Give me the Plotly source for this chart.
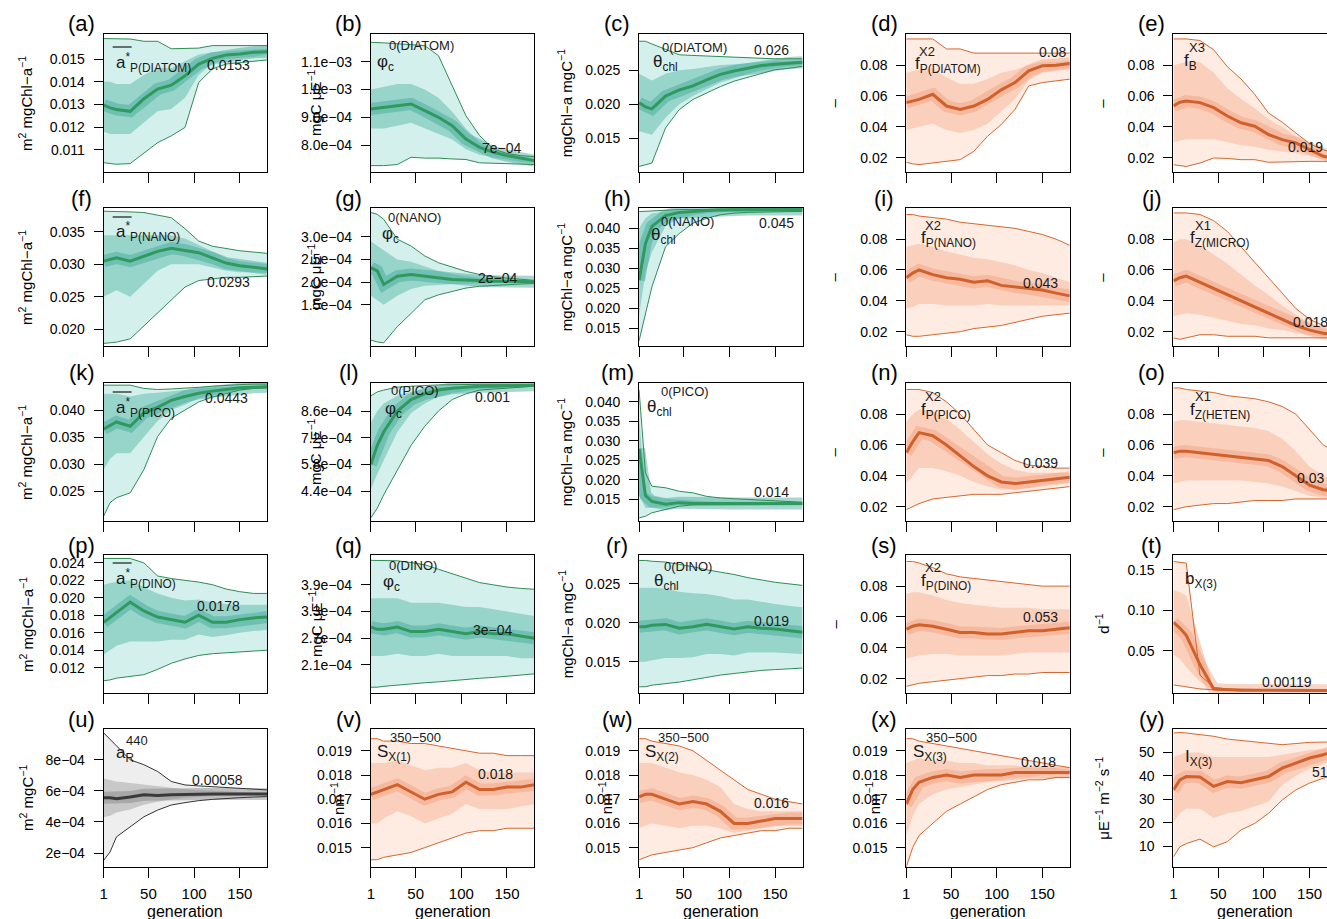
import plotly.graph_objects as go

W, H = 1327, 919

# generations at which the quantiles of every parameter are tabulated
GENERATIONS = [1, 8, 15, 30, 45, 60, 75, 90, 105, 120, 135, 150, 165, 180]
X_TICKS = [1, 50, 100, 150]
X_TICK_LABELS = ["1", "50", "100", "150"]

# ---------------- row 1 ----------------
a_lo = [0.01044, 0.0104, 0.01037, 0.0104, 0.01088, 0.01132, 0.01162, 0.01199, 0.01397, 0.01456, 0.01478, 0.01485, 0.0149, 0.01496]
a_q25 = [0.0118, 0.0117, 0.0117, 0.0117, 0.0122, 0.0127, 0.0128, 0.0133, 0.0143, 0.0148, 0.0150, 0.01505, 0.0151, 0.0152]
a_med = [0.01297, 0.01285, 0.01278, 0.0127, 0.01325, 0.01368, 0.01385, 0.01426, 0.01478, 0.01503, 0.01518, 0.01522, 0.0153, 0.01532]
a_q75 = [0.0140, 0.0140, 0.0139, 0.0139, 0.0143, 0.0146, 0.0146, 0.0149, 0.0152, 0.0153, 0.01535, 0.01538, 0.01542, 0.01545]
a_hi = [0.0159, 0.0159, 0.0159, 0.01588, 0.01578, 0.01578, 0.01545, 0.01545, 0.01548, 0.01559, 0.01559, 0.01559, 0.01559, 0.01559]
a_ticks = [0.011, 0.012, 0.013, 0.014, 0.015]
a_ticktext = ["0.011", "0.012", "0.013", "0.014", "0.015"]

b_lo = [7.26e-4, 7.26e-4, 7.26e-4, 7.3e-4, 7.56e-4, 7.53e-4, 7.53e-4, 7.5e-4, 7.48e-4, 7.36e-4, 7.34e-4, 7.32e-4, 7.3e-4, 7.3e-4]
b_q25 = [8.6e-4, 8.6e-4, 8.6e-4, 8.7e-4, 8.8e-4, 8.6e-4, 8.4e-4, 8.2e-4, 7.85e-4, 7.65e-4, 7.55e-4, 7.48e-4, 7.4e-4, 7.36e-4]
b_med = [9.3e-4, 9.33e-4, 9.36e-4, 9.42e-4, 9.48e-4, 9.24e-4, 9.0e-4, 8.7e-4, 8.22e-4, 7.92e-4, 7.74e-4, 7.62e-4, 7.52e-4, 7.44e-4]
b_q75 = [1.0e-3, 1.005e-3, 1.01e-3, 1.02e-3, 1.02e-3, 1.0e-3, 9.7e-4, 9.2e-4, 8.6e-4, 8.1e-4, 7.85e-4, 7.7e-4, 7.6e-4, 7.52e-4]
b_hi = [1.17e-3, 1.17e-3, 1.168e-3, 1.165e-3, 1.162e-3, 1.158e-3, 1.122e-3, 1.014e-3, 9.06e-4, 8.34e-4, 7.86e-4, 7.7e-4, 7.62e-4, 7.58e-4]
b_ticks = [8e-4, 9e-4, 1e-3, 1.1e-3]
b_ticktext = ["8.0e\u221204", "9.0e\u221204", "1.0e\u221203", "1.1e\u221203"]

c_lo = [0.0108, 0.0110, 0.0113, 0.0165, 0.0192, 0.0207, 0.0217, 0.0226, 0.0234, 0.0240, 0.0246, 0.0251, 0.0253, 0.0256]
c_q25 = [0.0160, 0.0157, 0.0155, 0.0180, 0.0200, 0.0212, 0.0222, 0.0232, 0.0238, 0.0245, 0.0250, 0.0254, 0.0256, 0.0258]
c_med = [0.0202, 0.0196, 0.0193, 0.0212, 0.0221, 0.0227, 0.0236, 0.0244, 0.0249, 0.0253, 0.0257, 0.0259, 0.0261, 0.0262]
c_q75 = [0.0245, 0.0240, 0.0235, 0.0245, 0.0250, 0.0252, 0.0255, 0.0258, 0.0259, 0.0261, 0.0263, 0.0264, 0.0264, 0.0265]
c_hi = [0.0293, 0.0293, 0.0289, 0.0281, 0.0273, 0.0272, 0.0271, 0.0270, 0.0270, 0.0268, 0.0267, 0.0267, 0.0267, 0.0267]
c_ticks = [0.015, 0.020, 0.025]
c_ticktext = ["0.015", "0.020", "0.025"]

d_lo = [0.017, 0.016, 0.0155, 0.0165, 0.0176, 0.0187, 0.0241, 0.0339, 0.0415, 0.0513, 0.0665, 0.0687, 0.0698, 0.0709]
d_q25 = [0.038, 0.039, 0.040, 0.042, 0.038, 0.036, 0.038, 0.042, 0.050, 0.058, 0.070, 0.075, 0.077, 0.078]
d_med = [0.0557, 0.057, 0.0578, 0.0611, 0.0535, 0.0513, 0.0535, 0.0578, 0.064, 0.0687, 0.0763, 0.0796, 0.080, 0.0811]
d_q75 = [0.075, 0.076, 0.077, 0.078, 0.072, 0.068, 0.068, 0.071, 0.075, 0.077, 0.080, 0.082, 0.082, 0.083]
d_hi = [0.097, 0.097, 0.097, 0.097, 0.0905, 0.0905, 0.0878, 0.0878, 0.0878, 0.0878, 0.0878, 0.0878, 0.0878, 0.0878]

e_lo = [0.0154, 0.015, 0.0143, 0.0165, 0.0198, 0.0195, 0.0187, 0.0187, 0.017, 0.0172, 0.0176, 0.0176, 0.0176, 0.0176]
e_q25 = [0.030, 0.031, 0.032, 0.032, 0.032, 0.030, 0.028, 0.027, 0.025, 0.024, 0.023, 0.021, 0.019, 0.018]
e_med = [0.0535, 0.056, 0.0567, 0.0557, 0.0524, 0.047, 0.0426, 0.0404, 0.035, 0.0317, 0.0296, 0.0252, 0.0209, 0.019]
e_q75 = [0.080, 0.081, 0.082, 0.082, 0.075, 0.065, 0.058, 0.052, 0.045, 0.040, 0.034, 0.028, 0.023, 0.020]
e_hi = [0.097, 0.097, 0.097, 0.096, 0.090, 0.079, 0.071, 0.061, 0.049, 0.043, 0.036, 0.029, 0.025, 0.023]

frac_ticks = [0.02, 0.04, 0.06, 0.08]
frac_ticktext = ["0.02", "0.04", "0.06", "0.08"]

# ---------------- row 2 ----------------
f_lo = [0.0178, 0.0179, 0.0180, 0.0185, 0.0205, 0.0225, 0.0245, 0.0265, 0.0275, 0.0278, 0.0280, 0.0280, 0.0281, 0.0282]
f_q25 = [0.0250, 0.0255, 0.0260, 0.0250, 0.0270, 0.0290, 0.0300, 0.0300, 0.0300, 0.0295, 0.0290, 0.0288, 0.0287, 0.0287]
f_med = [0.0305, 0.0308, 0.0310, 0.0305, 0.0312, 0.0320, 0.0325, 0.0322, 0.0318, 0.0310, 0.0302, 0.0298, 0.0295, 0.0293]
f_q75 = [0.0345, 0.0345, 0.0345, 0.0345, 0.0345, 0.0345, 0.0345, 0.0340, 0.0330, 0.0320, 0.0310, 0.0305, 0.0302, 0.0300]
f_hi = [0.0382, 0.0382, 0.0382, 0.0381, 0.0380, 0.0376, 0.0372, 0.0355, 0.0336, 0.0328, 0.0324, 0.0321, 0.0319, 0.0317]
f_ticks = [0.020, 0.025, 0.030, 0.035]
f_ticktext = ["0.020", "0.025", "0.030", "0.035"]

g_lo = [0.72e-4, 0.68e-4, 0.66e-4, 1.02e-4, 1.31e-4, 1.61e-4, 1.72e-4, 1.8e-4, 1.87e-4, 1.91e-4, 1.93e-4, 1.94e-4, 1.96e-4, 1.97e-4]
g_q25 = [1.7e-4, 1.6e-4, 1.5e-4, 1.7e-4, 1.85e-4, 1.92e-4, 1.94e-4, 1.96e-4, 1.97e-4, 1.97e-4, 1.98e-4, 1.99e-4, 1.99e-4, 1.99e-4]
g_med = [2.32e-4, 2.25e-4, 1.95e-4, 2.13e-4, 2.17e-4, 2.13e-4, 2.09e-4, 2.06e-4, 2.05e-4, 2.03e-4, 2.02e-4, 2.02e-4, 2.01e-4, 2.01e-4]
g_q75 = [2.9e-4, 2.8e-4, 2.7e-4, 2.5e-4, 2.45e-4, 2.35e-4, 2.25e-4, 2.18e-4, 2.13e-4, 2.1e-4, 2.07e-4, 2.05e-4, 2.04e-4, 2.03e-4]
g_hi = [3.54e-4, 3.5e-4, 3.39e-4, 2.95e-4, 2.8e-4, 2.58e-4, 2.43e-4, 2.34e-4, 2.24e-4, 2.17e-4, 2.12e-4, 2.09e-4, 2.06e-4, 2.04e-4]
g_ticks = [1.5e-4, 2.0e-4, 2.5e-4, 3.0e-4]
g_ticktext = ["1.5e\u221204", "2.0e\u221204", "2.5e\u221204", "3.0e\u221204"]

h_lo = [0.0118, 0.0185, 0.0253, 0.0354, 0.0387, 0.0413, 0.0425, 0.0434, 0.0438, 0.0440, 0.0441, 0.0442, 0.0442, 0.0442]
h_q25 = [0.018, 0.029, 0.034, 0.0405, 0.0425, 0.0433, 0.0438, 0.0441, 0.0443, 0.0444, 0.0445, 0.0445, 0.0445, 0.0445]
h_med = [0.027, 0.0362, 0.0405, 0.0432, 0.0440, 0.0443, 0.0445, 0.0446, 0.0446, 0.0447, 0.0447, 0.0447, 0.0447, 0.0447]
h_q75 = [0.040, 0.0425, 0.0437, 0.0442, 0.0444, 0.0446, 0.0447, 0.0447, 0.0447, 0.0448, 0.0448, 0.0448, 0.0448, 0.0448]
h_hi = [0.0442, 0.0443, 0.0444, 0.0446, 0.0447, 0.0447, 0.0448, 0.0449, 0.0449, 0.0449, 0.0449, 0.0449, 0.0449, 0.0449]
chl_ticks = [0.015, 0.020, 0.025, 0.030, 0.035, 0.040]
chl_ticktext = ["0.015", "0.020", "0.025", "0.030", "0.035", "0.040"]

i_lo = [0.018, 0.017, 0.017, 0.018, 0.019, 0.020, 0.022, 0.023, 0.024, 0.026, 0.028, 0.030, 0.031, 0.032]
i_q25 = [0.035, 0.036, 0.038, 0.038, 0.037, 0.037, 0.037, 0.038, 0.037, 0.037, 0.037, 0.037, 0.037, 0.037]
i_med = [0.055, 0.058, 0.060, 0.057, 0.055, 0.054, 0.052, 0.053, 0.050, 0.049, 0.048, 0.047, 0.045, 0.0432]
i_q75 = [0.075, 0.076, 0.077, 0.075, 0.072, 0.070, 0.068, 0.067, 0.065, 0.063, 0.060, 0.058, 0.055, 0.052]
i_hi = [0.096, 0.096, 0.095, 0.094, 0.093, 0.091, 0.090, 0.089, 0.088, 0.087, 0.085, 0.083, 0.080, 0.076]

j_lo = [0.016, 0.015, 0.016, 0.018, 0.018, 0.017, 0.017, 0.017, 0.016, 0.016, 0.016, 0.016, 0.016, 0.016]
j_q25 = [0.030, 0.031, 0.032, 0.031, 0.029, 0.027, 0.025, 0.024, 0.022, 0.021, 0.019, 0.018, 0.017, 0.017]
j_med = [0.053, 0.055, 0.056, 0.052, 0.048, 0.044, 0.040, 0.036, 0.032, 0.028, 0.024, 0.021, 0.019, 0.018]
j_q75 = [0.078, 0.080, 0.080, 0.076, 0.070, 0.064, 0.057, 0.050, 0.044, 0.037, 0.031, 0.026, 0.022, 0.020]
j_hi = [0.097, 0.097, 0.097, 0.096, 0.092, 0.085, 0.075, 0.065, 0.055, 0.045, 0.035, 0.028, 0.024, 0.022]

# ---------------- row 3 ----------------
k_lo = [0.0204, 0.0229, 0.0238, 0.0247, 0.0290, 0.0351, 0.0385, 0.0400, 0.0415, 0.0424, 0.0431, 0.0437, 0.0440, 0.0441]
k_q25 = [0.029, 0.031, 0.032, 0.032, 0.035, 0.038, 0.040, 0.041, 0.0422, 0.0428, 0.0432, 0.0436, 0.0439, 0.0440]
k_med = [0.0365, 0.0372, 0.0378, 0.0370, 0.0395, 0.0405, 0.0418, 0.0425, 0.0431, 0.0435, 0.0438, 0.0441, 0.0442, 0.0443]
k_q75 = [0.0430, 0.0430, 0.0430, 0.0425, 0.0430, 0.0432, 0.0435, 0.0437, 0.0440, 0.0441, 0.0443, 0.0444, 0.0445, 0.0446]
k_hi = [0.0446, 0.0446, 0.0446, 0.0446, 0.0440, 0.0438, 0.0439, 0.0440, 0.0442, 0.0444, 0.0446, 0.0447, 0.0448, 0.0448]
k_ticks = [0.025, 0.030, 0.035, 0.040]
k_ticktext = ["0.025", "0.030", "0.035", "0.040"]

l_lo = [3.0e-4, 3.5e-4, 4.2e-4, 5.5e-4, 6.8e-4, 7.8e-4, 8.6e-4, 9.2e-4, 9.5e-4, 9.7e-4, 9.75e-4, 9.8e-4, 9.85e-4, 9.9e-4]
l_q25 = [4.5e-4, 5.3e-4, 6.0e-4, 7.5e-4, 8.5e-4, 9.0e-4, 9.35e-4, 9.55e-4, 9.65e-4, 9.75e-4, 9.8e-4, 9.85e-4, 9.88e-4, 9.9e-4]
l_med = [5.8e-4, 6.8e-4, 7.5e-4, 8.6e-4, 9.2e-4, 9.5e-4, 9.7e-4, 9.8e-4, 9.85e-4, 9.9e-4, 9.9e-4, 9.92e-4, 9.93e-4, 9.95e-4]
l_q75 = [8.0e-4, 8.6e-4, 9.0e-4, 9.4e-4, 9.6e-4, 9.75e-4, 9.85e-4, 9.9e-4, 9.92e-4, 9.94e-4, 9.95e-4, 9.96e-4, 9.97e-4, 9.98e-4]
l_hi = [9.4e-4, 9.6e-4, 9.7e-4, 9.85e-4, 9.9e-4, 9.95e-4, 9.97e-4, 9.98e-4, 1.0e-3, 1.0e-3, 1.0e-3, 1.0e-3, 1.0e-3, 1.0e-3]
l_ticks = [4.4e-4, 5.8e-4, 7.2e-4, 8.6e-4]
l_ticktext = ["4.4e\u221204", "5.8e\u221204", "7.2e\u221204", "8.6e\u221204"]

m_lo = [0.0103, 0.0107, 0.0116, 0.0125, 0.0133, 0.0136, 0.0136, 0.0137, 0.0137, 0.0137, 0.0137, 0.0137, 0.0137, 0.0137]
m_q25 = [0.016, 0.0128, 0.0128, 0.0130, 0.0136, 0.0137, 0.0138, 0.0139, 0.0139, 0.0139, 0.0139, 0.0139, 0.0139, 0.0139]
m_med = [0.028, 0.016, 0.0145, 0.0138, 0.0142, 0.0140, 0.0140, 0.0140, 0.0140, 0.0140, 0.0140, 0.0140, 0.0140, 0.0140]
m_q75 = [0.036, 0.017, 0.0158, 0.0152, 0.0150, 0.0147, 0.0145, 0.0144, 0.0143, 0.0142, 0.0142, 0.0141, 0.0141, 0.0141]
m_hi = [0.043, 0.0218, 0.0184, 0.0180, 0.0171, 0.0167, 0.0158, 0.0154, 0.0152, 0.0150, 0.0148, 0.0146, 0.0144, 0.0143]

n_lo = [0.018, 0.020, 0.022, 0.025, 0.026, 0.027, 0.028, 0.028, 0.028, 0.029, 0.030, 0.031, 0.032, 0.033]
n_q25 = [0.035, 0.040, 0.045, 0.045, 0.043, 0.040, 0.036, 0.033, 0.031, 0.031, 0.032, 0.034, 0.035, 0.036]
n_med = [0.055, 0.062, 0.068, 0.066, 0.060, 0.053, 0.046, 0.040, 0.036, 0.035, 0.036, 0.037, 0.038, 0.039]
n_q75 = [0.075, 0.080, 0.083, 0.082, 0.077, 0.070, 0.062, 0.054, 0.048, 0.044, 0.042, 0.042, 0.042, 0.042]
n_hi = [0.096, 0.096, 0.096, 0.094, 0.088, 0.080, 0.070, 0.060, 0.055, 0.050, 0.047, 0.046, 0.045, 0.045]

o_lo = [0.018, 0.019, 0.020, 0.021, 0.022, 0.022, 0.023, 0.024, 0.024, 0.024, 0.025, 0.025, 0.025, 0.025]
o_q25 = [0.035, 0.036, 0.037, 0.037, 0.037, 0.037, 0.037, 0.036, 0.035, 0.033, 0.030, 0.027, 0.026, 0.026]
o_med = [0.055, 0.056, 0.056, 0.055, 0.054, 0.053, 0.052, 0.051, 0.050, 0.046, 0.040, 0.034, 0.031, 0.030]
o_q75 = [0.075, 0.076, 0.076, 0.075, 0.074, 0.073, 0.072, 0.071, 0.069, 0.064, 0.056, 0.046, 0.040, 0.037]
o_hi = [0.097, 0.097, 0.096, 0.095, 0.094, 0.092, 0.091, 0.090, 0.088, 0.085, 0.080, 0.070, 0.060, 0.055]

# ---------------- row 4 ----------------
p_lo = [0.0105, 0.0106, 0.0108, 0.0110, 0.0112, 0.0118, 0.0125, 0.0130, 0.0134, 0.0136, 0.0137, 0.0138, 0.0139, 0.0140]
p_q25 = [0.0135, 0.0140, 0.0145, 0.0150, 0.0150, 0.0150, 0.0152, 0.0152, 0.0158, 0.0155, 0.0157, 0.0160, 0.0162, 0.0163]
p_med = [0.0172, 0.0178, 0.0183, 0.0195, 0.0185, 0.0178, 0.0175, 0.0172, 0.0180, 0.0172, 0.0172, 0.0175, 0.0177, 0.0178]
p_q75 = [0.0215, 0.0217, 0.0218, 0.0220, 0.0212, 0.0205, 0.0200, 0.0197, 0.0198, 0.0195, 0.0193, 0.0192, 0.0192, 0.0192]
p_hi = [0.0245, 0.0245, 0.0245, 0.0245, 0.0240, 0.0225, 0.0222, 0.0220, 0.0218, 0.0215, 0.0210, 0.0207, 0.0205, 0.0205]
p_ticks = [0.012, 0.014, 0.016, 0.018, 0.020, 0.022, 0.024]
p_ticktext = ["0.012", "0.014", "0.016", "0.018", "0.020", "0.022", "0.024"]

q_lo = [1.6e-4, 1.6e-4, 1.62e-4, 1.65e-4, 1.68e-4, 1.7e-4, 1.72e-4, 1.75e-4, 1.78e-4, 1.8e-4, 1.82e-4, 1.85e-4, 1.88e-4, 1.9e-4]
q_q25 = [2.3e-4, 2.3e-4, 2.3e-4, 2.35e-4, 2.3e-4, 2.3e-4, 2.35e-4, 2.3e-4, 2.3e-4, 2.3e-4, 2.3e-4, 2.3e-4, 2.25e-4, 2.25e-4]
q_med = [2.95e-4, 2.9e-4, 2.9e-4, 2.95e-4, 2.85e-4, 2.85e-4, 2.9e-4, 2.85e-4, 2.8e-4, 2.85e-4, 2.8e-4, 2.8e-4, 2.75e-4, 2.7e-4]
q_q75 = [3.6e-4, 3.6e-4, 3.6e-4, 3.6e-4, 3.5e-4, 3.5e-4, 3.5e-4, 3.45e-4, 3.4e-4, 3.4e-4, 3.35e-4, 3.3e-4, 3.25e-4, 3.2e-4]
q_hi = [4.45e-4, 4.45e-4, 4.45e-4, 4.44e-4, 4.4e-4, 4.35e-4, 4.25e-4, 4.15e-4, 4.05e-4, 3.95e-4, 3.9e-4, 3.85e-4, 3.82e-4, 3.8e-4]
q_ticks = [2.1e-4, 2.7e-4, 3.3e-4, 3.9e-4]
q_ticktext = ["2.1e\u221204", "2.7e\u221204", "3.3e\u221204", "3.9e\u221204"]

r_lo = [0.0118, 0.0118, 0.0120, 0.0122, 0.0124, 0.0127, 0.0130, 0.0133, 0.0135, 0.0137, 0.0139, 0.0140, 0.0141, 0.0142]
r_q25 = [0.0150, 0.0150, 0.0152, 0.0155, 0.0155, 0.0156, 0.0160, 0.0160, 0.0158, 0.0162, 0.0162, 0.0162, 0.0161, 0.0160]
r_med = [0.0195, 0.0195, 0.0197, 0.0198, 0.0193, 0.0195, 0.0198, 0.0195, 0.0192, 0.0195, 0.0193, 0.0192, 0.0190, 0.0188]
r_q75 = [0.0245, 0.0245, 0.0245, 0.0244, 0.0240, 0.0238, 0.0237, 0.0234, 0.0230, 0.0230, 0.0227, 0.0224, 0.0222, 0.0220]
r_hi = [0.0280, 0.0280, 0.0279, 0.0278, 0.0275, 0.0272, 0.0268, 0.0265, 0.0262, 0.0258, 0.0255, 0.0252, 0.0250, 0.0248]
r_ticks = [0.015, 0.020, 0.025]
r_ticktext = ["0.015", "0.020", "0.025"]

s_lo = [0.015, 0.016, 0.017, 0.018, 0.019, 0.020, 0.021, 0.022, 0.022, 0.023, 0.023, 0.024, 0.024, 0.024]
s_q25 = [0.033, 0.034, 0.035, 0.036, 0.036, 0.035, 0.035, 0.035, 0.035, 0.036, 0.037, 0.037, 0.037, 0.037]
s_med = [0.052, 0.054, 0.055, 0.054, 0.052, 0.050, 0.050, 0.049, 0.049, 0.050, 0.051, 0.051, 0.052, 0.053]
s_q75 = [0.075, 0.076, 0.076, 0.074, 0.071, 0.069, 0.068, 0.067, 0.066, 0.066, 0.066, 0.065, 0.065, 0.065]
s_hi = [0.096, 0.096, 0.095, 0.092, 0.088, 0.086, 0.085, 0.084, 0.083, 0.082, 0.081, 0.080, 0.080, 0.080]

t_lo = [0.008, 0.007, 0.006, 0.003, 0.002, 0.001, 0.0009, 0.0009, 0.0008, 0.0008, 0.0008, 0.0008, 0.0008, 0.0008]
t_q25 = [0.045, 0.040, 0.030, 0.012, 0.002, 0.0012, 0.0011, 0.001, 0.001, 0.001, 0.001, 0.001, 0.001, 0.001]
t_med = [0.085, 0.078, 0.069, 0.033, 0.003, 0.0018, 0.0015, 0.0013, 0.0012, 0.0012, 0.0012, 0.0012, 0.0012, 0.00119]
t_q75 = [0.125, 0.122, 0.118, 0.060, 0.004, 0.0022, 0.0018, 0.0015, 0.0014, 0.0014, 0.0013, 0.0013, 0.0013, 0.0013]
t_hi = [0.160, 0.159, 0.158, 0.020, 0.005, 0.003, 0.0025, 0.002, 0.002, 0.0018, 0.0016, 0.0015, 0.0015, 0.0014]
t_ticks = [0.05, 0.10, 0.15]
t_ticktext = ["0.05", "0.10", "0.15"]

# ---------------- row 5 ----------------
u_lo = [1.53e-4, 2.07e-4, 3.04e-4, 3.69e-4, 4.33e-4, 4.76e-4, 5.09e-4, 5.24e-4, 5.37e-4, 5.45e-4, 5.52e-4, 5.56e-4, 5.6e-4, 5.63e-4]
u_q25 = [4.3e-4, 4.4e-4, 4.6e-4, 4.8e-4, 5.1e-4, 5.3e-4, 5.45e-4, 5.55e-4, 5.6e-4, 5.65e-4, 5.68e-4, 5.7e-4, 5.72e-4, 5.72e-4]
u_med = [5.55e-4, 5.55e-4, 5.5e-4, 5.6e-4, 5.75e-4, 5.7e-4, 5.75e-4, 5.78e-4, 5.8e-4, 5.8e-4, 5.8e-4, 5.8e-4, 5.8e-4, 5.8e-4]
u_q75 = [6.8e-4, 6.7e-4, 6.6e-4, 6.5e-4, 6.4e-4, 6.3e-4, 6.2e-4, 6.1e-4, 6.05e-4, 6.0e-4, 5.95e-4, 5.92e-4, 5.9e-4, 5.88e-4]
u_hi = [9.73e-4, 9.3e-4, 8.86e-4, 8.0e-4, 7.68e-4, 7.25e-4, 6.6e-4, 6.38e-4, 6.32e-4, 6.27e-4, 6.22e-4, 6.17e-4, 6.1e-4, 6.06e-4]
u_ticks = [2e-4, 4e-4, 6e-4, 8e-4]
u_ticktext = ["2e\u221204", "4e\u221204", "6e\u221204", "8e\u221204"]

v_lo = [0.0145, 0.0145, 0.0146, 0.0147, 0.0148, 0.0150, 0.0152, 0.0154, 0.0156, 0.0157, 0.0157, 0.0158, 0.0158, 0.0158]
v_q25 = [0.0160, 0.0160, 0.0162, 0.0165, 0.0163, 0.0160, 0.0162, 0.0164, 0.0168, 0.0166, 0.0166, 0.0166, 0.0167, 0.0168]
v_med = [0.0172, 0.0173, 0.0174, 0.0176, 0.0173, 0.0170, 0.0172, 0.0173, 0.0177, 0.0174, 0.0174, 0.0175, 0.0175, 0.0176]
v_q75 = [0.0185, 0.0185, 0.0185, 0.0186, 0.0184, 0.0182, 0.0183, 0.0183, 0.0185, 0.0182, 0.0181, 0.0181, 0.0181, 0.0181]
v_hi = [0.0195, 0.0195, 0.0194, 0.0194, 0.0193, 0.0193, 0.0192, 0.0191, 0.0190, 0.0189, 0.0189, 0.0188, 0.0188, 0.0188]

w_lo = [0.0145, 0.0146, 0.0147, 0.0148, 0.0149, 0.0150, 0.0152, 0.0154, 0.0155, 0.0156, 0.0157, 0.0157, 0.0158, 0.0158]
w_q25 = [0.0158, 0.0159, 0.0160, 0.0159, 0.0158, 0.0159, 0.0159, 0.0158, 0.0156, 0.0157, 0.0158, 0.0159, 0.0159, 0.0159]
w_med = [0.0171, 0.0172, 0.0172, 0.0170, 0.0168, 0.0169, 0.0168, 0.0165, 0.0160, 0.0160, 0.0161, 0.0162, 0.0162, 0.0162]
w_q75 = [0.0185, 0.0185, 0.0185, 0.0183, 0.0181, 0.0180, 0.0178, 0.0175, 0.0168, 0.0166, 0.0165, 0.0165, 0.0165, 0.0165]
w_hi = [0.0195, 0.0195, 0.0194, 0.0193, 0.0192, 0.0190, 0.0186, 0.0182, 0.0178, 0.0174, 0.0172, 0.0170, 0.0169, 0.0168]

x_lo = [0.0142, 0.0150, 0.0155, 0.0160, 0.0165, 0.0168, 0.0171, 0.0174, 0.0176, 0.0177, 0.0178, 0.0178, 0.0179, 0.0179]
x_q25 = [0.0155, 0.0163, 0.0168, 0.0172, 0.0174, 0.0175, 0.0176, 0.0177, 0.0178, 0.0179, 0.0179, 0.0180, 0.0180, 0.0180]
x_med = [0.0168, 0.0174, 0.0177, 0.0179, 0.0180, 0.0179, 0.0180, 0.0180, 0.0180, 0.0181, 0.0181, 0.0181, 0.0181, 0.0181]
x_q75 = [0.0185, 0.0186, 0.0187, 0.0186, 0.0186, 0.0185, 0.0185, 0.0184, 0.0184, 0.0184, 0.0183, 0.0183, 0.0183, 0.0182]
x_hi = [0.0195, 0.0195, 0.0194, 0.0193, 0.0192, 0.0191, 0.0190, 0.0189, 0.0188, 0.0187, 0.0186, 0.0185, 0.0184, 0.0183]

slope_ticks = [0.015, 0.016, 0.017, 0.018, 0.019]
slope_ticktext = ["0.015", "0.016", "0.017", "0.018", "0.019"]

y_lo = [5.4, 9.7, 11.1, 13.0, 9.7, 11.9, 16.9, 19.7, 24.0, 29.7, 34.0, 36.9, 39.0, 40.4]
y_q25 = [20.0, 24.0, 26.0, 26.0, 22.0, 24.0, 25.0, 27.0, 29.0, 36.0, 40.0, 43.0, 45.0, 47.0]
y_med = [34.0, 38.3, 39.7, 39.5, 35.5, 37.6, 37.1, 38.3, 39.7, 43.3, 45.4, 47.6, 49.0, 51.0]
y_q75 = [48.0, 49.0, 50.0, 50.0, 48.0, 48.0, 48.0, 48.0, 48.0, 49.0, 50.0, 51.0, 51.5, 52.0]
y_hi = [58.3, 58.5, 58.3, 57.6, 56.9, 55.7, 55.1, 54.7, 54.0, 53.3, 53.8, 54.3, 54.4, 54.5]
y_ticks = [10, 20, 30, 40, 50]
y_ticktext = ["10", "20", "30", "40", "50"]

SERIES = {
    "a": (a_lo, a_q25, a_med, a_q75, a_hi), "b": (b_lo, b_q25, b_med, b_q75, b_hi),
    "c": (c_lo, c_q25, c_med, c_q75, c_hi), "d": (d_lo, d_q25, d_med, d_q75, d_hi),
    "e": (e_lo, e_q25, e_med, e_q75, e_hi), "f": (f_lo, f_q25, f_med, f_q75, f_hi),
    "g": (g_lo, g_q25, g_med, g_q75, g_hi), "h": (h_lo, h_q25, h_med, h_q75, h_hi),
    "i": (i_lo, i_q25, i_med, i_q75, i_hi), "j": (j_lo, j_q25, j_med, j_q75, j_hi),
    "k": (k_lo, k_q25, k_med, k_q75, k_hi), "l": (l_lo, l_q25, l_med, l_q75, l_hi),
    "m": (m_lo, m_q25, m_med, m_q75, m_hi), "n": (n_lo, n_q25, n_med, n_q75, n_hi),
    "o": (o_lo, o_q25, o_med, o_q75, o_hi), "p": (p_lo, p_q25, p_med, p_q75, p_hi),
    "q": (q_lo, q_q25, q_med, q_q75, q_hi), "r": (r_lo, r_q25, r_med, r_q75, r_hi),
    "s": (s_lo, s_q25, s_med, s_q75, s_hi), "t": (t_lo, t_q25, t_med, t_q75, t_hi),
    "u": (u_lo, u_q25, u_med, u_q75, u_hi), "v": (v_lo, v_q25, v_med, v_q75, v_hi),
    "w": (w_lo, w_q25, w_med, w_q75, w_hi), "x": (x_lo, x_q25, x_med, x_q75, x_hi),
    "y": (y_lo, y_q25, y_med, y_q75, y_hi),
}

TICKS = {
    "a": (a_ticks, a_ticktext), "b": (b_ticks, b_ticktext), "c": (c_ticks, c_ticktext),
    "d": (frac_ticks, frac_ticktext), "e": (frac_ticks, frac_ticktext),
    "f": (f_ticks, f_ticktext), "g": (g_ticks, g_ticktext), "h": (chl_ticks, chl_ticktext),
    "i": (frac_ticks, frac_ticktext), "j": (frac_ticks, frac_ticktext),
    "k": (k_ticks, k_ticktext), "l": (l_ticks, l_ticktext), "m": (chl_ticks, chl_ticktext),
    "n": (frac_ticks, frac_ticktext), "o": (frac_ticks, frac_ticktext),
    "p": (p_ticks, p_ticktext), "q": (q_ticks, q_ticktext), "r": (r_ticks, r_ticktext),
    "s": (frac_ticks, frac_ticktext), "t": (t_ticks, t_ticktext),
    "u": (u_ticks, u_ticktext), "v": (slope_ticks, slope_ticktext),
    "w": (slope_ticks, slope_ticktext), "x": (slope_ticks, slope_ticktext),
    "y": (y_ticks, y_ticktext),
}

# ---------------- look and placement ----------------
THEMES = {
    "green": dict(outer="#d3f0ec", inner="#97d5cb", core="rgba(64,165,150,0.45)", edge="#2f8c55", median="#2e9a5e"),
    "orange": dict(outer="#feebe2", inner="#fad0bc", core="rgba(240,150,115,0.40)", edge="#d5672e", median="#d0612a"),
    "grey": dict(outer="#eeeeee", inner="#c8c8c8", core="rgba(120,120,120,0.40)", edge="#333333", median="#3a3a3a"),
}

COL_LEFT = [100, 368, 637, 905, 1173]
ROW_TOP = [34, 208, 383, 555, 729]
BOX_W, BOX_H = 164, 138
GEN_SPAN = 179.0

UNIT_CHL = "m<sup>2</sup> mgChl\u2212a<sup>\u22121</sup>"
UNIT_PHI = "mgC \u03bcE<sup>\u22121</sup>"
UNIT_THETA = "mgChl\u2212a mgC<sup>\u22121</sup>"
UNIT_NM = "nm<sup>\u22121</sup>"

# key: column, row, theme, y range, y title, title offset,
#      symbol (text, dx, dy), superscript (text, dx, dy), overbar,
#      value label (cx, cy), significant digits, scientific
STYLE = {
    "a": dict(c=0, r=0, th="green", yr=[0.01003, 0.0161], yt=UNIT_CHL, yto=-78,
              sym=("a<sup>*</sup><sub>P(DIATOM)</sub>", 10, 28), sup=None, bar=True, val=(125, 31), sig=3, sci=False),
    "b": dict(c=1, r=0, th="green", yr=[7.03e-4, 1.2e-3], yt=UNIT_PHI, yto=-56,
              sym=("\u03c6<sub>c</sub>", 4, 29), sup=("0(DIATOM)", 16, 12), bar=False, val=(132, 114), sig=1, sci=True),
    "c": dict(c=2, r=0, th="green", yr=[0.00998, 0.03037], yt=UNIT_THETA, yto=-74,
              sym=("\u03b8<sub>chl</sub>", 12, 29), sup=("0(DIATOM)", 21, 13), bar=False, val=(133, 16), sig=2, sci=False),
    "d": dict(c=3, r=0, th="orange", yr=[0.0107, 0.1002], yt="\u2013", yto=-72,
              sym=("f<sub>P(DIATOM)</sub>", 7, 31), sup=("X2", 11, 17), bar=False, val=(147, 18), sig=1, sci=False),
    "e": dict(c=4, r=0, th="orange", yr=[0.0107, 0.1002], yt="\u2013", yto=-72,
              sym=("f<sub>B</sub>", 9, 28), sup=("X3", 14, 13), bar=False, val=(132, 113), sig=2, sci=False),
    "f": dict(c=0, r=1, th="green", yr=[0.0174, 0.0387], yt=UNIT_CHL, yto=-78,
              sym=("a<sup>*</sup><sub>P(NANO)</sub>", 10, 24), sup=None, bar=True, val=(125, 74), sig=3, sci=False),
    "g": dict(c=1, r=1, th="green", yr=[0.59e-4, 3.64e-4], yt=UNIT_PHI, yto=-56,
              sym=("\u03c6<sub>c</sub>", 9, 27), sup=("0(NANO)", 15, 9), bar=False, val=(127, 70), sig=1, sci=True),
    "h": dict(c=2, r=1, th="green", yr=[0.0105, 0.0451], yt=UNIT_THETA, yto=-74,
              sym=("\u03b8<sub>chl</sub>", 10, 28), sup=("0(NANO)", 20, 13), bar=False, val=(138, 15), sig=2, sci=False),
    "i": dict(c=3, r=1, th="orange", yr=[0.0107, 0.1002], yt="\u2013", yto=-72,
              sym=("f<sub>P(NANO)</sub>", 13, 31), sup=("X2", 17, 17), bar=False, val=(135, 75), sig=2, sci=False),
    "j": dict(c=4, r=1, th="orange", yr=[0.0107, 0.1002], yt="\u2013", yto=-72,
              sym=("f<sub>Z(MICRO)</sub>", 15, 31), sup=("X1", 20, 17), bar=False, val=(137, 114), sig=2, sci=False),
    "k": dict(c=0, r=2, th="green", yr=[0.0195, 0.0450], yt=UNIT_CHL, yto=-78,
              sym=("a<sup>*</sup><sub>P(PICO)</sub>", 10, 24), sup=None, bar=True, val=(123, 15), sig=3, sci=False),
    "l": dict(c=1, r=2, th="green", yr=[2.83e-4, 1.007e-3], yt=UNIT_PHI, yto=-56,
              sym=("\u03c6<sub>c</sub>", 12, 27), sup=("0(PICO)", 18, 8), bar=False, val=(122, 14), sig=1, sci=False),
    "m": dict(c=2, r=2, th="green", yr=[0.0095, 0.0448], yt=UNIT_THETA, yto=-74,
              sym=("\u03b8<sub>chl</sub>", 6, 25), sup=("0(PICO)", 20, 9), bar=False, val=(133, 109), sig=2, sci=False),
    "n": dict(c=3, r=2, th="orange", yr=[0.0107, 0.1002], yt="\u2013", yto=-72,
              sym=("f<sub>P(PICO)</sub>", 13, 28), sup=("X2", 17, 13), bar=False, val=(135, 80), sig=2, sci=False),
    "o": dict(c=4, r=2, th="orange", yr=[0.0107, 0.1002], yt="\u2013", yto=-72,
              sym=("f<sub>Z(HETEN)</sub>", 15, 28), sup=("X1", 20, 13), bar=False, val=(137, 95), sig=1, sci=False),
    "p": dict(c=0, r=3, th="green", yr=[0.0091, 0.0249], yt=UNIT_CHL, yto=-78,
              sym=("a<sup>*</sup><sub>P(DINO)</sub>", 10, 23), sup=None, bar=True, val=(115, 51), sig=3, sci=False),
    "q": dict(c=1, r=3, th="green", yr=[1.47e-4, 4.57e-4], yt=UNIT_PHI, yto=-56,
              sym=("\u03c6<sub>c</sub>", 10, 28), sup=("0(DINO)", 16, 10), bar=False, val=(122, 75), sig=1, sci=True),
    "r": dict(c=2, r=3, th="green", yr=[0.0110, 0.0287], yt=UNIT_THETA, yto=-74,
              sym=("\u03b8<sub>chl</sub>", 13, 27), sup=("0(DINO)", 23, 11), bar=False, val=(133, 66), sig=2, sci=False),
    "s": dict(c=3, r=3, th="orange", yr=[0.0107, 0.1002], yt="\u2013", yto=-72,
              sym=("f<sub>P(DINO)</sub>", 13, 27), sup=("X2", 17, 12), bar=False, val=(135, 62), sig=2, sci=False),
    "t": dict(c=4, r=3, th="orange", yr=[-0.002, 0.168], yt="d<sup>\u22121</sup>", yto=-72,
              sym=("b<sub>X(3)</sub>", 10, 25), sup=None, bar=False, val=(114, 127), sig=3, sci=False),
    "u": dict(c=0, r=4, th="grey", yr=[1.1e-4, 9.98e-4], yt="m<sup>2</sup> mgC<sup>\u22121</sup>", yto=-78,
              sym=("a<sub>R</sub>", 10, 25), sup=("440", 20, 11), bar=False, val=(114, 51), sig=2, sci=False),
    "v": dict(c=1, r=4, th="orange", yr=[0.0142, 0.0199], yt=UNIT_NM, yto=-34,
              sym=("S<sub>X(1)</sub>", 4, 24), sup=("350\u2212500", 17, 8), bar=False, val=(125, 45), sig=2, sci=False),
    "w": dict(c=2, r=4, th="orange", yr=[0.0142, 0.0199], yt=UNIT_NM, yto=-34,
              sym=("S<sub>X(2)</sub>", 4, 24), sup=("350\u2212500", 17, 8), bar=False, val=(133, 74), sig=2, sci=False),
    "x": dict(c=3, r=4, th="orange", yr=[0.0142, 0.0199], yt=UNIT_NM, yto=-34,
              sym=("S<sub>X(3)</sub>", 5, 24), sup=("350\u2212500", 18, 8), bar=False, val=(133, 33), sig=2, sci=False),
    "y": dict(c=4, r=4, th="orange", yr=[1.1, 60.0], yt="\u03bcE<sup>\u22121</sup> m<sup>\u22122</sup> s<sup>\u22121</sup>", yto=-72,
              sym=("I<sub>X(3)</sub>", 10, 29), sup=None, bar=False, val=(147, 43), sig=2, sci=False),
}

FONT = "Liberation Sans, Arial, sans-serif"


def px(x):
    return x / W


def py(y):
    return 1 - y / H


def fmt_value(v, sig, sci):
    if sci:
        return f"{v:.{sig - 1}e}".replace("-", "\u2212")
    r = float(f"{v:.{sig}g}")
    if r == int(r):
        return str(int(r))
    return repr(r)


fig = go.Figure()
annotations = []
shapes = []
layout_axes = {}

for n, key in enumerate(sorted(STYLE), start=1):
    st = STYLE[key]
    lo, q25, med, q75, hi = SERIES[key]
    tv, tt = TICKS[key]
    theme = THEMES[st["th"]]
    left, top = COL_LEFT[st["c"]], ROW_TOP[st["r"]]
    right = min(left + BOX_W, W)
    xref = "x" if n == 1 else f"x{n}"
    yref = "y" if n == 1 else f"y{n}"
    gens = GENERATIONS
    common = dict(xaxis=xref, yaxis=yref, hoverinfo="skip", showlegend=False)

    # outer envelope, central band and a soft core around the median
    fig.add_trace(go.Scatter(x=gens + gens[::-1], y=hi + lo[::-1], fill="toself",
                             fillcolor=theme["outer"], mode="lines", line=dict(width=0), **common))
    fig.add_trace(go.Scatter(x=gens + gens[::-1], y=q75 + q25[::-1], fill="toself",
                             fillcolor=theme["inner"], mode="lines", line=dict(width=0), **common))
    fig.add_trace(go.Scatter(x=gens, y=med, mode="lines",
                             line=dict(color=theme["core"], width=12), **common))
    for edge in (lo, hi):
        fig.add_trace(go.Scatter(x=gens, y=edge, mode="lines",
                                 line=dict(color=theme["edge"], width=1), **common))
    fig.add_trace(go.Scatter(x=gens, y=med, mode="lines",
                             line=dict(color=theme["median"], width=3), **common))

    bottom_row = st["r"] == 4
    x_max = 1 + (right - left) / BOX_W * GEN_SPAN
    layout_axes["xaxis" if n == 1 else f"xaxis{n}"] = dict(
        domain=[px(left), px(right)], range=[1, x_max], anchor=yref,
        tickmode="array", tickvals=X_TICKS, ticktext=X_TICK_LABELS,
        showticklabels=bottom_row, ticks="outside", ticklen=10, tickcolor="black",
        ticklabelstandoff=3, showline=True, linecolor="black", linewidth=1,
        mirror=True, showgrid=False, zeroline=False,
        tickfont=dict(family=FONT, size=15, color="black"))
    layout_axes["yaxis" if n == 1 else f"yaxis{n}"] = dict(
        domain=[py(top + BOX_H), py(top)], range=st["yr"], anchor=xref,
        tickmode="array", tickvals=tv, ticktext=tt,
        ticks="outside", ticklen=9, tickcolor="black", ticklabelstandoff=6,
        showline=True, linecolor="black", linewidth=1,
        mirror=right < W, showgrid=False, zeroline=False,
        tickfont=dict(family=FONT, size=14, color="black"))

    # panel letter
    annotations.append(dict(text=f"({key})", x=px(left - 22), y=py(top - 10), xref="paper", yref="paper",
                            showarrow=False, xanchor="center", yanchor="middle",
                            font=dict(family=FONT, size=22, color="black")))
    # y axis title
    annotations.append(dict(text=st["yt"], x=px(left + st["yto"]), y=py(top + BOX_H / 2),
                            xref="paper", yref="paper", showarrow=False, textangle=-90,
                            xanchor="center", yanchor="middle",
                            font=dict(family=FONT, size=15, color="black")))
    # parameter symbol
    s_text, s_dx, s_dy = st["sym"]
    annotations.append(dict(text=s_text, x=px(left + s_dx), y=py(top + s_dy), xref="paper", yref="paper",
                            showarrow=False, xanchor="left", yanchor="middle",
                            font=dict(family=FONT, size=17, color="#1a1a1a")))
    if st["sup"]:
        u_text, u_dx, u_dy = st["sup"]
        annotations.append(dict(text=u_text, x=px(left + u_dx), y=py(top + u_dy), xref="paper", yref="paper",
                                showarrow=False, xanchor="left", yanchor="middle",
                                font=dict(family=FONT, size=13, color="#1a1a1a")))
    if st["bar"]:
        shapes.append(dict(type="line", xref="paper", yref="paper",
                           x0=px(left + 9), x1=px(left + 28), y0=py(top + s_dy - 15), y1=py(top + s_dy - 15),
                           line=dict(color="#1a1a1a", width=1.2)))
    # final median value
    v_cx, v_cy = st["val"]
    annotations.append(dict(text=fmt_value(med[-1], st["sig"], st["sci"]), x=px(left + v_cx), y=py(top + v_cy),
                            xref="paper", yref="paper", showarrow=False, xanchor="center", yanchor="middle",
                            font=dict(family=FONT, size=14, color="#1a1a1a")))
    if bottom_row:
        annotations.append(dict(text="generation", x=px(left + BOX_W / 2), y=py(911), xref="paper", yref="paper",
                                showarrow=False, xanchor="center", yanchor="middle",
                                font=dict(family=FONT, size=16, color="black")))

fig.update_layout(
    width=W, height=H, margin=dict(l=0, r=0, t=0, b=0),
    paper_bgcolor="white", plot_bgcolor="white",
    annotations=annotations, shapes=shapes, showlegend=False,
    **layout_axes,
)

fig.write_html("out.html")
